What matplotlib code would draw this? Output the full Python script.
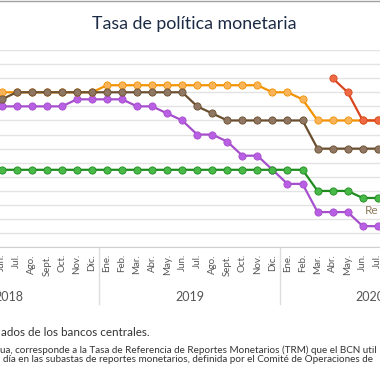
import numpy as np
import matplotlib.pyplot as plt
from matplotlib.lines import Line2D
import matplotlib.transforms as mtransforms

plt.rcParams['font.family'] = ['Lato', 'DejaVu Sans']

# data (jun 2018 - jul 2020)
meses = ['Jun.', 'Jul.', 'Ago.', 'Sept.', 'Oct.', 'Nov.', 'Dic.',
         'Ene.', 'Feb.', 'Mar.', 'Abr.', 'May.', 'Jun.', 'Jul.', 'Ago.',
         'Sept.', 'Oct.', 'Nov.', 'Dic.',
         'Ene.', 'Feb.', 'Mar.', 'Abr.', 'May.', 'Jun.', 'Jul.']
anios = ['2018', '2019', '2020']
inicio_anio = [-5, 7, 19]   # index of Ene. for each year

costa_rica = [5.0, 5.0, 5.0, 5.0, 5.0, 5.25, 5.25, 5.25, 5.25, 5.0, 5.0, 4.75, 4.5,
              4.0, 4.0, 3.75, 3.25, 3.25, 2.75, 2.25, 2.25, 1.25, 1.25, 1.25, 0.75, 0.75]
guatemala = [2.75, 2.75, 2.75, 2.75, 2.75, 2.75, 2.75, 2.75, 2.75, 2.75, 2.75, 2.75, 2.75,
             2.75, 2.75, 2.75, 2.75, 2.75, 2.75, 2.75, 2.75, 2.0, 2.0, 2.0, 1.75, 1.75]
honduras = [5.5, 5.5, 5.5, 5.5, 5.5, 5.5, 5.5, 5.75, 5.75, 5.75, 5.75, 5.75, 5.75,
            5.75, 5.75, 5.75, 5.75, 5.75, 5.5, 5.5, 5.25, 4.5, 4.5, 4.5, 4.5, 4.5]
nicaragua = [np.nan] * 22 + [6.0, 5.5, 4.5, 4.5]
rep_dom = [5.25, 5.5, 5.5, 5.5, 5.5, 5.5, 5.5, 5.5, 5.5, 5.5, 5.5, 5.5, 5.5,
           5.0, 4.75, 4.5, 4.5, 4.5, 4.5, 4.5, 4.5, 3.5, 3.5, 3.5, 3.5, 3.5]

series = [
    (costa_rica, '#a64fcc', '#b85fe3'),
    (guatemala, '#1f8c1f', '#48b948'),
    (honduras, '#f39200', '#f9b45a'),
    (nicaragua, '#d9471f', '#ee6a45'),
    (rep_dom, '#6a4e2f', '#8f7763'),
]

x = np.arange(len(meses))

fig = plt.figure(figsize=(3.8, 3.8), dpi=100)
ax = fig.add_axes([0, 1 - 247.3 / 380, 1, (247.3 - 50) / 380])

for vals, lc, fc in series:
    ax.plot(x, vals, color=lc, lw=1.6, marker='o', markersize=5.2,
            markerfacecolor=fc, markeredgecolor=lc, markeredgewidth=0.6,
            zorder=3, clip_on=False)

ax.set_xlim(-0.113, 25.15)
ax.set_ylim(0, 7)
ax.set_yticks(np.arange(0, 7.01, 0.5))
ax.yaxis.grid(True, color='#e3e3e3', lw=1)
ax.tick_params(axis='y', left=False, labelleft=False)
for s in ['top', 'left', 'right']:
    ax.spines[s].set_visible(False)
ax.spines['bottom'].set_color('#d0d0d0')
ax.set_axisbelow(True)

ax.set_xticks(x)
ax.set_xticklabels(meses, rotation=90, fontsize=7, color='#555555')
ax.tick_params(axis='x', length=0, pad=5)

# year labels and separators below axis
trans = mtransforms.blended_transform_factory(ax.transData, ax.transAxes)
for anio, ini in zip(anios, inicio_anio):
    ax.text(ini + 5.5, -0.25, anio, transform=trans, ha='center', va='center',
            fontsize=9, color='#555555', clip_on=False)
    ax.plot([ini - 0.5, ini - 0.5], [0, -0.285], transform=trans,
            color='#dddddd', lw=1, clip_on=False)

ax.text(365, 170, 'Re', transform=None, fontsize=8.5, color='#8c7a5b',
        ha='left', va='center')

# title and notes
fig.text(0.51, 1 - 29 / 380, 'Tasa de política monetaria', ha='center',
         va='baseline', fontsize=12.8, color='#1c2b45')
fig.add_artist(Line2D([0, 1], [0.998, 0.998], color='#a0a0a0', lw=1))

fig.text(150 / 380, 1 - 332 / 380, 'ados de los bancos centrales.', ha='right',
         va='center', fontsize=8.4, color='#333333')
fig.text(0, 1 - 350 / 380,
         'ua, corresponde a la Tasa de Referencia de Reportes Monetarios (TRM) que el BCN util',
         ha='left', va='center', fontsize=7.1, color='#333333')
fig.text(3 / 380, 1 - 359.5 / 380,
         'día en las subastas de reportes monetarios, definida por el Comité de Operaciones de',
         ha='left', va='center', fontsize=7.1, color='#333333')

fig.savefig('out.png', dpi=100)
